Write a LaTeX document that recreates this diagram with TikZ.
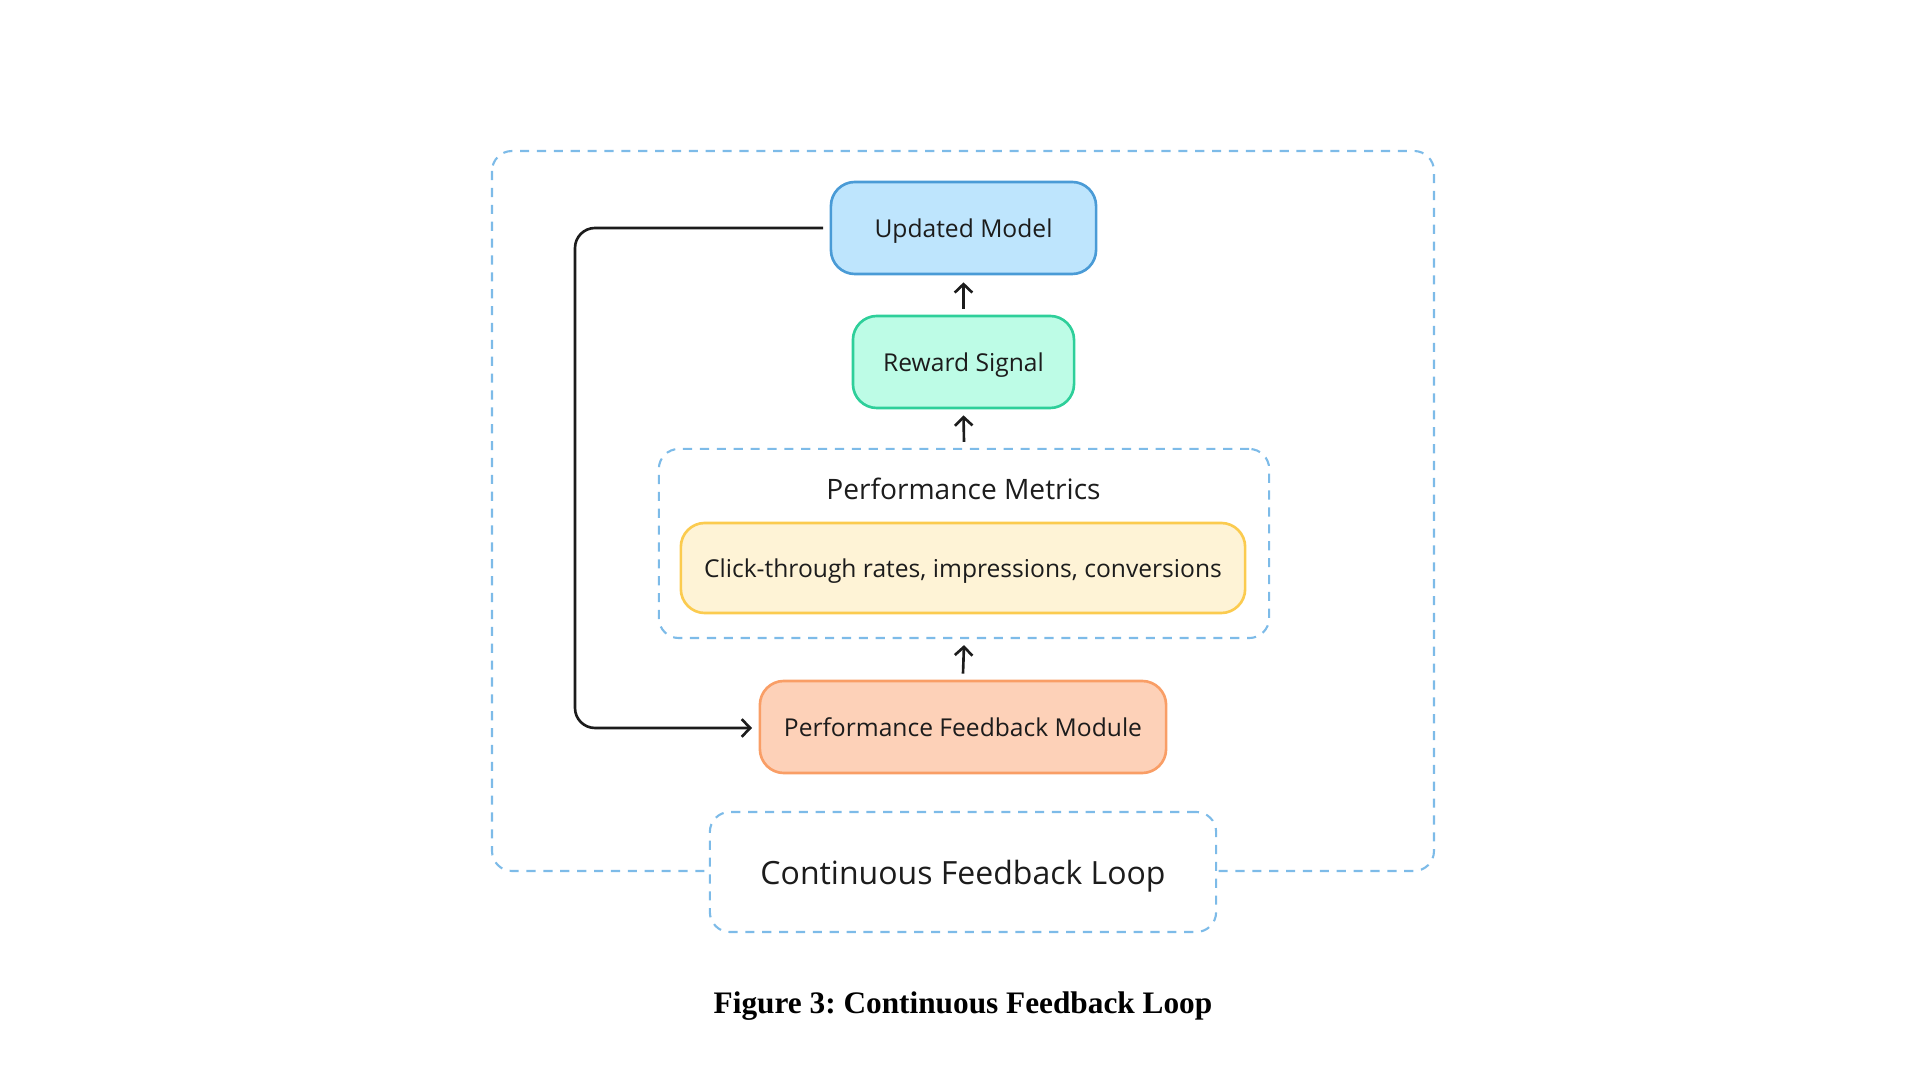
\documentclass[tikz,border=0pt]{standalone}
\usepackage{fontspec}
\setmainfont{Open Sans}
\newfontfamily\capfont{Liberation Serif}
\usetikzlibrary{arrows.meta}
\frenchspacing
\definecolor{dashblue}{HTML}{7DBBE8}
\definecolor{umfill}{HTML}{BEE5FD}
\definecolor{umdraw}{HTML}{4A9BD6}
\definecolor{rsfill}{HTML}{BDFCE6}
\definecolor{rsdraw}{HTML}{2ECF9A}
\definecolor{ctfill}{HTML}{FEF3D6}
\definecolor{ctdraw}{HTML}{FBCB4F}
\definecolor{pffill}{HTML}{FDD1B8}
\definecolor{pfdraw}{HTML}{F99E66}
\definecolor{ink}{HTML}{1C1C1C}
\tikzset{
  boxstyle/.style={draw, line width=0.75pt, rounded corners=0.24cm, inner sep=0pt, align=center, text=ink, text depth=0pt, font=\fontsize{7}{8.4}\selectfont},
  dashbox/.style={draw=dashblue, line width=0.6pt, dash pattern=on 2.6pt off 2.2pt, rounded corners=0.2cm},
  uparrow/.style={draw=ink, line width=0.75pt, -{Straight Barb[length=2.4pt,width=5pt]}},
  loopline/.style={draw=ink, line width=0.75pt, rounded corners=0.2cm, -{Straight Barb[length=2.4pt,width=5pt]}}
}
\begin{document}
\begin{tikzpicture}[x=0.01cm,y=-0.01cm]
\useasboundingbox (0,0) rectangle (1920,1080);
% outer dashed frame
\draw[dashbox] (492,151) rectangle (1434,871);
% nodes
\node[boxstyle, fill=umfill, draw=umdraw, minimum width=2.65cm, minimum height=0.92cm] (um) at (963.5,228) {Updated Model};
\node[boxstyle, fill=rsfill, draw=rsdraw, minimum width=2.21cm, minimum height=0.92cm] (rs) at (963.5,362) {Reward Signal};
\node[dashbox, minimum width=6.10cm, minimum height=1.89cm, inner sep=0pt] (pm) at (964,543.5) {};
\node[text=ink, font=\fontsize{8}{9.6}\selectfont, text depth=0pt, inner sep=0pt] (pmlabel) at (963.5,488.6) {Performance Metrics};
\node[boxstyle, fill=ctfill, draw=ctdraw, minimum width=5.64cm, minimum height=0.90cm] (ct) at (963,568) {Click-through rates, impressions, conversions};
\node[boxstyle, fill=pffill, draw=pfdraw, minimum width=4.06cm, minimum height=0.92cm] (pf) at (963,727) {Performance Feedback Module};
\node[dashbox, fill=white, minimum width=5.06cm, minimum height=1.20cm, inner sep=0pt, text=ink, text depth=0pt, font=\fontsize{9.1}{10.5}\selectfont] (cfl) at (963,872) {Continuous Feedback Loop};
\node[font=\capfont\bfseries\fontsize{8.9}{10}\selectfont, text depth=0pt, inner sep=0pt] (cap) at (963,1003) {Figure 3: Continuous Feedback Loop};
% up arrows
\draw[uparrow] ([yshift=0.06cm]rs.north) -- ([yshift=-0.07cm]um.south);
\draw[uparrow] ([yshift=0.06cm]pm.north) -- ([yshift=-0.06cm]rs.south);
\draw[uparrow] ([yshift=0.06cm]pf.north) -- ([yshift=-0.06cm]pm.south);
% loop connector
\coordinate (ls) at (823,228);
\coordinate (lc) at (575,728);
\coordinate (le) at (752,728);
\draw[loopline] (ls) -| (lc) -- (le);
\end{tikzpicture}
\end{document}
